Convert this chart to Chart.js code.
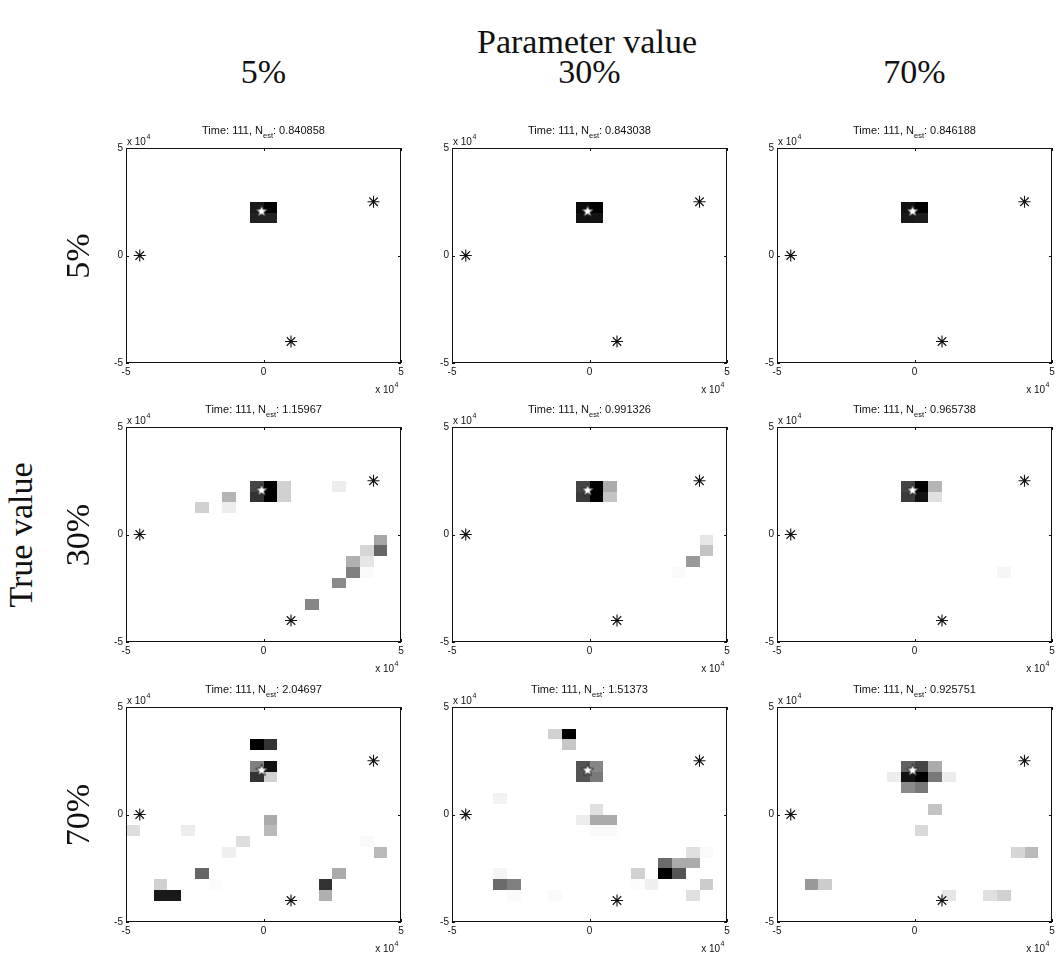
<!DOCTYPE html>
<html>
<head>
<meta charset="utf-8">
<script src="https://cdn.jsdelivr.net/npm/chart.js@4.4.1/dist/chart.umd.min.js"></script>
<style>
  html, body { margin: 0; padding: 0; background: #fff; }
  body { position: relative; width: 1060px; height: 955px; overflow: hidden; }
  .panel { position: absolute; }
  .panel canvas { display: block; }
  .lbl { position: absolute; font-family: "Liberation Serif", "DejaVu Serif", serif; color: #111;
         white-space: nowrap; line-height: 1; transform: translate(-50%, -50%); }
  .rot { transform: translate(-50%, -50%) rotate(-90deg); }
</style>
</head>
<body>
<script>
// ---- data -------------------------------------------------------------
const paramLevels = ['5%', '30%', '70%'];   // columns: parameter value
const trueLevels  = ['5%', '30%', '70%'];   // rows: true value
const timeStep = 111;
const nEst = [
  [0.840858, 0.843038, 0.846188],
  [1.15967, 0.991326, 0.965738],
  [2.04697, 1.51373, 0.925751]
];
const axisTicks = [-5, 0, 5];          // shown in units of 10^4
const axisExponent = 4;
const cellSize = 0.5;                  // grid cell width (x 10^4)
const sensors = [[-4.5, 0], [4, 2.5], [1, -4]];
const target = [-0.07, 2.05];

// cells: [x centre, y centre, density 0..1]
const cellsT5P5 = [[-0.25, 2.25, 0.90], [0.25, 2.25, 1.00], [-0.25, 1.75, 0.87], [0.25, 1.75, 0.87]];
const cellsT5P30 = [[-0.25, 2.25, 0.96], [0.25, 2.25, 1.00], [-0.25, 1.75, 0.93], [0.25, 1.75, 0.93]];
const cellsT5P70 = [[-0.25, 2.25, 0.93], [0.25, 2.25, 1.00], [-0.25, 1.75, 0.90], [0.25, 1.75, 0.89]];

const cellsT30P5 = [
  [-0.25, 2.25, 0.73], [-0.25, 1.75, 0.80], [0.25, 2.25, 1.00], [0.25, 1.75, 1.00],
  [0.75, 2.25, 0.18], [0.75, 1.75, 0.18], [-1.25, 1.75, 0.29], [-1.25, 1.25, 0.07],
  [-2.25, 1.25, 0.18], [2.75, 2.25, 0.07], [4.25, -0.25, 0.35], [4.25, -0.75, 0.60],
  [3.75, -0.75, 0.16], [3.75, -1.25, 0.10], [3.75, -1.75, 0.02], [3.25, -1.25, 0.31],
  [3.25, -1.75, 0.50], [2.75, -2.25, 0.46], [1.75, -3.25, 0.47]
];
const cellsT30P30 = [
  [-0.25, 2.25, 0.73], [-0.25, 1.75, 0.77], [0.25, 2.25, 1.00], [0.25, 1.75, 1.00],
  [0.75, 2.25, 0.33], [0.75, 1.75, 0.23], [4.25, -0.25, 0.10], [4.25, -0.75, 0.23],
  [3.75, -1.25, 0.40], [3.25, -1.75, 0.02]
];
const cellsT30P70 = [
  [-0.25, 2.25, 0.73], [-0.25, 1.75, 0.77], [0.25, 2.25, 1.00], [0.25, 1.75, 0.93],
  [0.75, 2.25, 0.29], [0.75, 1.75, 0.12], [3.25, -1.75, 0.04]
];

const cellsT70P5 = [
  [-0.25, 3.25, 1.00], [0.25, 3.25, 0.80], [-0.25, 2.25, 0.50], [-0.25, 1.75, 0.80],
  [0.25, 2.25, 0.93], [0.25, 1.75, 0.18], [0.25, -0.25, 0.33], [0.25, -0.75, 0.27],
  [-4.75, -0.75, 0.13], [-2.75, -0.75, 0.07], [-0.75, -1.25, 0.13], [-1.25, -1.75, 0.06],
  [-2.25, -2.75, 0.60], [-1.75, -3.25, 0.01], [-3.75, -3.25, 0.18], [-3.75, -3.75, 0.90],
  [-3.25, -3.75, 0.90], [2.25, -3.25, 0.80], [2.25, -3.75, 0.31], [2.75, -2.75, 0.33],
  [3.75, -1.25, 0.02], [4.25, -1.75, 0.27]
];
const cellsT70P30 = [
  [-1.25, 3.75, 0.18], [-0.75, 3.75, 1.00], [-0.75, 3.25, 0.22],
  [-0.25, 2.25, 0.67], [-0.25, 1.75, 0.67], [0.25, 2.25, 0.47], [0.25, 1.75, 0.52],
  [-3.25, 0.75, 0.05], [0.25, 0.25, 0.12], [0.25, -0.25, 0.33], [0.25, -0.75, 0.02],
  [-0.25, -0.25, 0.07], [0.75, -0.25, 0.33], [0.75, -0.75, 0.02],
  [3.75, -1.75, 0.12], [3.75, -2.25, 0.33], [3.75, -3.75, 0.12], [4.25, -1.75, 0.02],
  [4.25, -3.25, 0.20], [3.25, -2.25, 0.33], [3.25, -2.75, 0.67], [2.75, -2.25, 0.58],
  [2.75, -2.75, 1.00], [1.75, -2.75, 0.18], [1.75, -3.25, 0.01], [2.25, -3.25, 0.06],
  [-3.25, -2.75, 0.04], [-3.25, -3.25, 0.58], [-2.75, -3.25, 0.50], [-2.75, -3.75, 0.02],
  [-1.25, -3.75, 0.02]
];
const cellsT70P70 = [
  [-0.25, 2.25, 0.62], [-0.25, 1.75, 0.93], [-0.25, 1.25, 0.46],
  [0.25, 2.25, 0.73], [0.25, 1.75, 1.00], [0.25, 1.25, 0.53],
  [0.75, 2.25, 0.33], [0.75, 1.75, 0.53], [-0.75, 1.75, 0.07], [1.25, 1.75, 0.07],
  [0.75, 0.25, 0.23], [0.25, -0.75, 0.15], [3.75, -1.75, 0.16], [4.25, -1.75, 0.27],
  [-3.75, -3.25, 0.40], [-3.25, -3.25, 0.20], [1.25, -3.75, 0.10], [2.75, -3.75, 0.12],
  [3.25, -3.75, 0.18]
];

const panelCells = [
  [cellsT5P5, cellsT5P30, cellsT5P70],
  [cellsT30P5, cellsT30P30, cellsT30P70],
  [cellsT70P5, cellsT70P30, cellsT70P70]
];

// ---- layout -----------------------------------------------------------
const colLeft = [126, 452, 777];
const rowTop = [148, 427, 707];
const BOX_W = 275, BOX_H = 215;
const PAD_L = 32, PAD_T = 34, PAD_R = 10, PAD_B = 36;
const SANS = '"Liberation Sans", Arial, Helvetica, sans-serif';

// white pentagram used for the estimated position
const pentagram = (() => {
  const s = 18, c = document.createElement('canvas');
  c.width = s; c.height = s;
  const g = c.getContext('2d');
  const R = 6.3, r = 2.6;
  g.beginPath();
  for (let k = 0; k < 10; k++) {
    const a = -Math.PI / 2 + k * Math.PI / 5;
    const rad = k % 2 ? r : R;
    g.lineTo(s / 2 + rad * Math.cos(a), s / 2 + rad * Math.sin(a));
  }
  g.closePath();
  g.fillStyle = '#fff'; g.fill();
  g.lineWidth = 0.9; g.strokeStyle = '#222'; g.stroke();
  return c;
})();

// grey-scale occupancy cells, box frame, inward ticks, exponent labels and title
const heatmapPlugin = {
  id: 'heatmap',
  beforeDatasetsDraw(chart, args, opts) {
    const { ctx, chartArea: a } = chart;
    const xs = chart.scales.x, ys = chart.scales.y;
    ctx.save();
    ctx.beginPath(); ctx.rect(a.left, a.top, a.width, a.height); ctx.clip();
    for (const [cx, cy, v] of opts.cells) {
      const x0 = Math.round(xs.getPixelForValue(cx - cellSize / 2));
      const x1 = Math.round(xs.getPixelForValue(cx + cellSize / 2));
      const y0 = Math.round(ys.getPixelForValue(cy + cellSize / 2));
      const y1 = Math.round(ys.getPixelForValue(cy - cellSize / 2));
      const g = Math.round(255 * (1 - v));
      ctx.fillStyle = `rgb(${g},${g},${g})`;
      ctx.fillRect(x0, y0, x1 - x0, y1 - y0);
    }
    ctx.restore();
  },
  afterDraw(chart, args, opts) {
    const { ctx, chartArea: a } = chart;
    const xs = chart.scales.x, ys = chart.scales.y;
    ctx.save();
    // frame
    ctx.strokeStyle = '#111';
    ctx.lineWidth = 1;
    ctx.strokeRect(Math.round(a.left) + 0.5, Math.round(a.top) + 0.5,
                   Math.round(a.width) - 1, Math.round(a.height) - 1);
    // inward tick marks on all four sides
    const TL = 3;
    ctx.beginPath();
    for (const v of axisTicks) {
      const px = Math.round(xs.getPixelForValue(v)) + 0.5;
      ctx.moveTo(px, a.bottom); ctx.lineTo(px, a.bottom - TL);
      ctx.moveTo(px, a.top); ctx.lineTo(px, a.top + TL);
      const py = Math.round(ys.getPixelForValue(v)) + 0.5;
      ctx.moveTo(a.left, py); ctx.lineTo(a.left + TL, py);
      ctx.moveTo(a.right, py); ctx.lineTo(a.right - TL, py);
    }
    ctx.stroke();

    ctx.fillStyle = '#111';
    ctx.textBaseline = 'alphabetic';
    // exponent labels: "x 10^4"
    const big = '10px ' + SANS, small = '7px ' + SANS;
    ctx.font = big;
    const base = 'x 10';
    const wb = ctx.measureText(base).width;
    ctx.font = small;
    const we = ctx.measureText(String(axisExponent)).width;
    // top-left (y axis)
    ctx.font = big; ctx.textAlign = 'left';
    ctx.fillText(base, a.left + 1, a.top - 3);
    ctx.font = small;
    ctx.fillText(String(axisExponent), a.left + 1 + wb + 0.5, a.top - 9);
    // bottom-right (x axis)
    const xr = a.right - 3 - we;
    ctx.font = big;
    ctx.fillText(base, xr - wb, a.bottom + 30);
    ctx.font = small;
    ctx.fillText(String(axisExponent), xr + 0.5, a.bottom + 24);

    // title with subscript
    const tf = '11px ' + SANS, sf = '7.5px ' + SANS;
    const p1 = `Time: ${timeStep}, N`, sub = 'est', p2 = `: ${opts.value}`;
    ctx.font = tf; const w1 = ctx.measureText(p1).width, w2 = ctx.measureText(p2).width;
    ctx.font = sf; const ws = ctx.measureText(sub).width;
    let x = (a.left + a.right) / 2 - (w1 + ws + w2) / 2;
    const tb = a.top - 14;
    ctx.font = tf; ctx.fillText(p1, x, tb); x += w1;
    ctx.font = sf; ctx.fillText(sub, x, tb + 4); x += ws;
    ctx.font = tf; ctx.fillText(p2, x, tb);
    ctx.restore();
  }
};

function axisOptions(isX) {
  return {
    type: 'linear',
    min: -5, max: 5,
    afterBuildTicks: s => { s.ticks = axisTicks.map(v => ({ value: v })); },
    afterFit: s => { if (isX) s.height = PAD_B; else s.width = PAD_L; },
    grid: { display: false, drawTicks: false },
    border: { display: false },
    ticks: {
      autoSkip: false, maxRotation: 0,
      padding: isX ? 3 : 3,
      color: '#111',
      font: { family: SANS, size: 10 }
    }
  };
}

function makePanel(r, c) {
  const W = PAD_L + BOX_W + PAD_R, H = PAD_T + BOX_H + PAD_B;
  const wrap = document.createElement('div');
  wrap.className = 'panel';
  wrap.style.left = (colLeft[c] - PAD_L) + 'px';
  wrap.style.top = (rowTop[r] - PAD_T) + 'px';
  wrap.style.width = W + 'px';
  wrap.style.height = H + 'px';
  const cv = document.createElement('canvas');
  cv.width = W; cv.height = H;
  wrap.appendChild(cv);
  document.body.appendChild(wrap);

  new Chart(cv, {
    type: 'scatter',
    data: {
      datasets: [
        {
          data: sensors.map(([x, y]) => ({ x, y })),
          pointStyle: 'star', radius: 6, borderWidth: 1.1,
          borderColor: '#111', backgroundColor: '#111'
        },
        {
          data: [{ x: target[0], y: target[1] }],
          pointStyle: pentagram, radius: 6
        }
      ]
    },
    options: {
      responsive: false,
      animation: false,
      devicePixelRatio: 1,
      events: [],
      layout: { padding: { top: PAD_T, right: PAD_R, left: 0, bottom: 0 } },
      scales: { x: axisOptions(true), y: axisOptions(false) },
      plugins: {
        legend: { display: false },
        tooltip: { enabled: false },
        heatmap: { cells: panelCells[r][c], value: nEst[r][c] }
      }
    },
    plugins: [heatmapPlugin]
  });
}

for (let r = 0; r < 3; r++) for (let c = 0; c < 3; c++) makePanel(r, c);

// ---- headings ---------------------------------------------------------
function addLabel(text, x, y, size, rotated) {
  const d = document.createElement('div');
  d.className = 'lbl' + (rotated ? ' rot' : '');
  d.textContent = text;
  d.style.left = x + 'px';
  d.style.top = y + 'px';
  d.style.fontSize = size + 'px';
  document.body.appendChild(d);
}
addLabel('Parameter value', 587, 42, 34, false);
paramLevels.forEach((t, i) => addLabel(t, colLeft[i] + BOX_W / 2, 72, 34, false));
addLabel('True value', 21, 535, 34, true);
trueLevels.forEach((t, i) => addLabel(t, 78, rowTop[i] + BOX_H / 2, 34, true));
</script>
</body>
</html>
